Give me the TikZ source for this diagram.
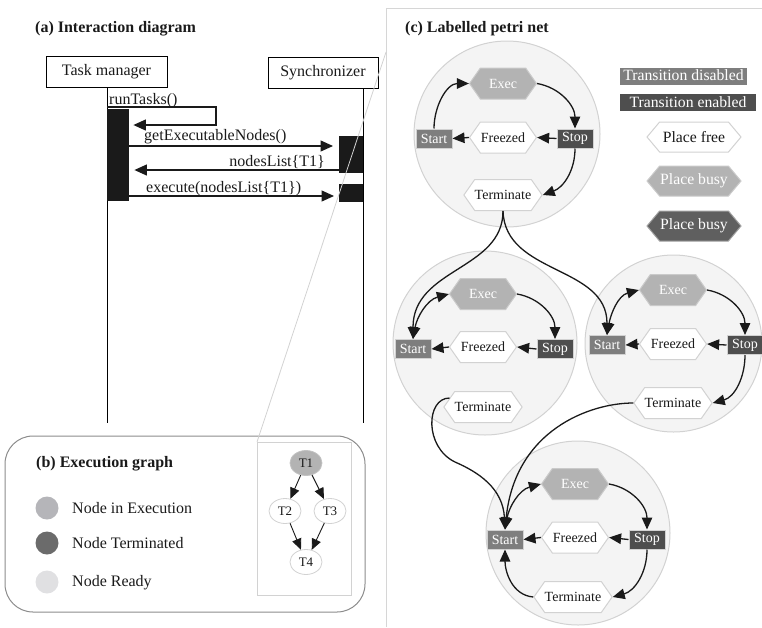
\documentclass[tikz,border=0pt]{standalone}
\usepackage{fontspec}
\setmainfont{Liberation Serif}
\usetikzlibrary{shapes.symbols,shapes.geometric,arrows.meta}

\definecolor{ink}{HTML}{1A1A1A}
\definecolor{netfill}{HTML}{F4F4F4}
\definecolor{netline}{HTML}{D2D2D2}
\definecolor{tdis}{HTML}{7E7E7E}
\definecolor{tena}{HTML}{4E4E4E}
\definecolor{pbusy}{HTML}{B3B3B3}
\definecolor{pbusydark}{HTML}{5F5F5F}
\definecolor{framec}{HTML}{D6D6D6}
\definecolor{panelb}{HTML}{8C8C8C}
\definecolor{gexec}{HTML}{B5B5B9}
\definecolor{gterm}{HTML}{6B6B6B}
\definecolor{gready}{HTML}{E0E0E2}

\newcommand{\setfs}[1]{\fontsize{#1}{#1}\selectfont}

\tikzset{
  bigtip/.tip={Triangle[length=12pt,width=10.5pt]},
  flow/.style={draw=ink, line width=1.3pt, -bigtip},
  biflow/.style={draw=ink, line width=1.3pt, bigtip-bigtip},
  msg/.style={draw=ink, line width=1.2pt, -{Triangle[length=12.5pt,width=11pt]}},
  gflow/.style={draw=ink, line width=0.9pt, -{Triangle[length=11pt,width=9.5pt]}},
  netbg/.style={circle, fill=netfill, draw=netline, line width=1pt, inner sep=0pt},
  place/.style={signal, signal to=east and west, signal pointer angle=110,
    minimum width=67pt, minimum height=31pt, inner sep=0pt,
    draw=netline, fill=white, line width=1pt, text=ink, font=\setfs{14}},
  busyplace/.style={place, fill=pbusy, draw=pbusy!70!white, text=white},
  trans/.style={rectangle, minimum width=36pt, minimum height=19pt, inner sep=1pt,
    draw=netline, line width=1pt, text=white, font=\setfs{14}},
  transdis/.style={trans, fill=tdis},
  transena/.style={trans, fill=tena},
  seqbox/.style={draw=black, line width=1pt, minimum height=31pt, inner sep=0pt,
    font=\setfs{16}, text=ink},
  actbar/.style={rectangle, fill=ink, inner sep=0pt, anchor=north west},
  seqlabel/.style={font=\setfs{16}, text=ink, inner sep=0pt},
  title/.style={font=\bfseries\setfs{16}, text=ink, inner sep=0pt, anchor=base west},
  legtext/.style={font=\setfs{16}, text=ink, inner sep=0pt, anchor=base west},
  legdot/.style={circle, minimum size=23pt, inner sep=0pt},
  gnode/.style={ellipse, minimum width=32pt, minimum height=25pt, inner sep=0pt,
    draw=netline, fill=white, line width=0.8pt, text=ink, font=\setfs{13}},
  legtrans/.style={rectangle, text=white, font=\setfs{15.7}, minimum height=17pt,
    inner sep=0pt, text height=11pt, text depth=2pt},
  legplace/.style={place, minimum width=94pt, minimum height=30pt, signal pointer angle=100,
    font=\setfs{15.7}},
}

\begin{document}
\begin{tikzpicture}[x=1pt,y=-1pt]
\useasboundingbox (0,0) rectangle (762,627);

% ---------- (a) interaction diagram ----------
\node[title] (ta) at (35,32) {(a) Interaction diagram};
\node[seqbox, minimum width=121pt] (tm) at (106.5,72) {Task manager};
\node[seqbox, minimum width=110pt] (sy) at (323,73) {Synchronizer};
\coordinate (tmend) at (107,423);
\coordinate (syend) at (363,423);
\draw[line width=1pt] (tm.south -| tmend) -- (tmend);
\draw[line width=1pt] (sy.south -| syend) -- (syend);

\node[actbar, minimum width=22pt, minimum height=92pt] (act1) at (107,109) {};
\node[actbar, minimum width=24pt, minimum height=37pt] (act2) at (339,136) {};
\node[actbar, minimum width=24pt, minimum height=18pt] (act3) at (339,184) {};

\node[seqlabel, anchor=base west] (l1) at (109,104) {runTasks()};
\draw[msg] (tmend |- 0,107) -- (216,107) -- (216,125) -- ([xshift=4pt]act1.east |- 0,125);

\node[seqlabel, anchor=base west] (l2) at (144,140) {getExecutableNodes()};
\draw[msg, shorten >=6pt] (act1.east |- 0,146) -- (act2.west |- 0,146);

\node[seqlabel, anchor=base east] (l3) at (325,166) {nodesList\{T1\}};
\draw[msg, shorten >=5pt] (act2.west |- 0,170) -- (act1.east |- 0,170);

\node[seqlabel, anchor=base west] (l4) at (146,192) {execute(nodesList\{T1\})};
\draw[msg, shorten >=5pt] (act1.east |- 0,196) -- (act3.west |- 0,196);

% ---------- (b) execution graph ----------
\draw[draw=panelb, line width=1pt, rounded corners=28pt] (5,436) rectangle (365,612);
\node[title] (tb) at (36,467) {(b) Execution graph};
\node[legdot, fill=gexec] (dexec) at (47,508) {};
\node[legdot, fill=gterm] (dterm) at (47,543) {};
\node[legdot, fill=gready] (dready) at (47,582) {};
\node[legtext] at (72,513) {Node in Execution};
\node[legtext] at (72,548) {Node Terminated};
\node[legtext] at (72,586) {Node Ready};

\node[draw=netline, line width=0.8pt, minimum width=94pt, minimum height=153pt,
      inner sep=0pt, anchor=north west] (tbox) at (257,442) {};
\node[gnode, fill=pbusy, draw=pbusy!80!white] (g1) at (306,463) {T1};
\node[gnode] (g2) at (285,511) {T2};
\node[gnode] (g3) at (330,511) {T3};
\node[gnode] (g4) at (306,562) {T4};
\draw[gflow] (g1) -- (g2);
\draw[gflow] (g1) -- (g3);
\draw[gflow] (g2) -- (g4);
\draw[gflow] (g3) -- (g4);

% ---------- (c) labelled petri net ----------
\coordinate (ccorner) at (386,8);
\coordinate (cedge) at (386,52);
\draw[framec, line width=1pt] (762,8) -- (ccorner) -- (386,627);
\draw[draw=netline, line width=0.8pt] (cedge) -- (tbox.north west);
\node[title] (tc) at (405,32) {(c) Labelled petri net};

% legend
\node[legtrans, fill=tdis, minimum width=127pt] (ldis) at (683.5,76) {Transition disabled};
\node[legtrans, fill=tena, minimum width=136pt] (lena) at (688,102.5) {Transition enabled};
\node[legplace] (lfree) at (694,137) {Place free};
\node[legplace, fill=pbusy, draw=pbusy!70!white, text=white] (lbusy) at (694,181) {Place busy};
\node[legplace, fill=pbusydark, draw=pbusydark!60!white, text=white] (lbusyd) at (694,226) {Place busy};

% net backgrounds
\node[netbg, minimum size=186pt] (n1) at (507,134) {};
\node[netbg, minimum size=184pt] (n2) at (485,343) {};
\node[netbg, minimum size=177pt] (n3) at (673.5,343.5) {};
\node[netbg, minimum size=184pt] (n4) at (578,533) {};

% net 1
\node[busyplace] (ex1) at (503,83.5) {Exec};
\node[transdis] (st1) at (434,138.5) {Start};
\node[place] (fr1) at (503,137.5) {Freezed};
\node[transena] (sp1) at (575,138.5) {Stop};
\node[place] (te1) at (503,195) {Terminate};
\draw[flow] (st1.north) to[out=90,in=180] (ex1.west);
\draw[flow] (ex1.east) to[out=-10,in=90] (sp1.north);
\draw[flow] (sp1.west) -- (fr1.east);
\draw[flow] (fr1.west) -- (st1.east);
\draw[flow] (sp1.south) to[out=-90,in=20] (te1.east);

% net 2
\node[busyplace] (ex2) at (483,294) {Exec};
\node[transdis] (st2) at (413,349) {Start};
\node[place] (fr2) at (483,347) {Freezed};
\node[transena] (sp2) at (555,349) {Stop};
\node[place] (te2) at (483,407) {Terminate};
\draw[biflow] (st2.north) to[out=80,in=195] (ex2.west);
\draw[flow] (ex2.east) to[out=-10,in=90] (sp2.north);
\draw[flow] (sp2.west) -- (fr2.east);
\draw[flow] (fr2.west) -- (st2.east);

% net 3
\node[busyplace] (ex3) at (673,290) {Exec};
\node[transdis] (st3) at (607,345) {Start};
\node[place] (fr3) at (673,344) {Freezed};
\node[transena] (sp3) at (745,345) {Stop};
\node[place] (te3) at (673,403) {Terminate};
\draw[biflow] (st3.north) to[out=80,in=195] (ex3.west);
\draw[flow] (ex3.east) to[out=-10,in=90] (sp3.north);
\draw[flow] (sp3.west) -- (fr3.east);
\draw[flow] (fr3.west) -- (st3.east);
\draw[flow] (sp3.south) to[out=-90,in=15] (te3.east);

% net 4
\node[busyplace] (ex4) at (575,484) {Exec};
\node[transdis] (st4) at (505,539.5) {Start};
\node[place] (fr4) at (575,537.5) {Freezed};
\node[transena] (sp4) at (647,539.5) {Stop};
\node[place] (te4) at (573,597) {Terminate};
\draw[biflow] (st4.north) to[out=80,in=195] (ex4.west);
\draw[flow] (ex4.east) to[out=-10,in=90] (sp4.north);
\draw[flow] (sp4.west) -- (fr4.east);
\draw[flow] (fr4.west) -- (st4.east);
\draw[flow] (sp4.south) to[out=-90,in=15] (te4.east);
\draw[flow] (te4.west) to[out=175,in=-90] (st4.south);

% links between nets
\draw[flow] (te1.south) .. controls (503,270) and (413,268) .. (st2.north);
\draw[flow] (te1.south) .. controls (505,275) and (607,265) .. (st3.north);
\draw[flow] (te2.165) .. controls (426,398) and (424,447) .. (455,462)
            .. controls (478,472) and (503,488) .. (st4.north);
\draw[flow] (te3.west) .. controls (590,403) and (515,430) .. (st4.north);
\end{tikzpicture}
\end{document}
